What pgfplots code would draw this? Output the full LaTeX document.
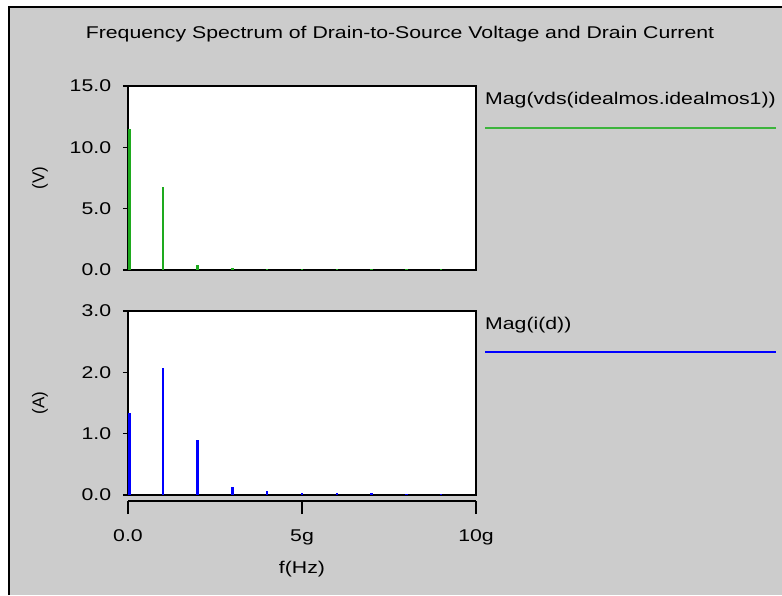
\documentclass[border=0pt]{standalone}
\usepackage{fontspec}
\setmainfont{Liberation Sans}
\usepackage{pgfplots}
\pgfplotsset{compat=1.18}

\definecolor{panelgray}{HTML}{CCCCCC}
\definecolor{specgreen}{RGB}{30,170,30}
\definecolor{leggreen}{RGB}{60,180,60}

\newcommand{\txt}[1]{\scalebox{1.25}[1]{\fontsize{17}{20}\selectfont #1}}

\pgfplotsset{
  specaxis/.style={
    anchor=south west,
    width=348pt, height=184pt, scale only axis,
    xmin=0, xmax=10, ymin=0,
    xtick=\empty,
    ytick pos=left, tick align=outside, major tick length=5pt,
    axis line style={line width=1.5pt},
    every tick/.style={black, line width=1.5pt},
    axis background/.style={fill=white},
    yticklabel style={font=\fontsize{17}{20}\selectfont, xscale=1.25, xshift=-6pt,
      /pgf/number format/.cd, fixed, fixed zerofill, precision=1, assume math mode=true},
    every axis y label/.style={at={(axis description cs:-0.253,0.5)}, rotate=90, anchor=center,
      font=\fontsize{17}{20}\selectfont},
    clip=false,
  },
}

\begin{document}
\begin{tikzpicture}
\useasboundingbox (0,0) rectangle (782pt,595pt);
\fill[white] (0,0) rectangle (782pt,595pt);
\fill[panelgray] (9pt,0) rectangle (782pt,588pt);
\draw[line width=2pt] (9pt,0) -- (9pt,588pt) -- (782pt,588pt);

\node at (400pt,561pt) {\txt{Frequency Spectrum of Drain-to-Source Voltage and Drain Current}};

% voltage spectrum
\begin{axis}[specaxis, at={(128pt,325pt)}, ymax=15, ytick={0,5,10,15}, ylabel={(V)}]
\addplot[ycomb, specgreen, line width=2.5pt, mark=none] coordinates {
  (0.04,11.5) (1,6.8) (2,0.4) (3,0.15) (4,0.05) (5,0.05) (6,0.05) (7,0.05) (8,0.05) (9,0.05)
};
\end{axis}

% current spectrum
\begin{axis}[specaxis, at={(128pt,100pt)}, ymax=3, ytick={0,1,2,3}, ylabel={(A)}]
\addplot[ycomb, blue, line width=2.5pt, mark=none] coordinates {
  (0.04,1.34) (1,2.07) (2,0.89) (3,0.13) (4,0.06) (5,0.04) (6,0.04) (7,0.04) (8,0.01) (9,0.01)
};
\end{axis}

% shared frequency axis
\begin{axis}[
  at={(128pt,94pt)}, anchor=south west,
  width=348pt, height=10pt, scale only axis,
  xmin=0, xmax=10, ymin=0, ymax=1,
  hide y axis, axis x line*=bottom,
  axis line style={-, line width=1.5pt},
  xtick={0,5,10}, xticklabels={0.0,5g,10g},
  tick align=outside, major tick length=13pt,
  every tick/.style={black, line width=1.5pt},
  xticklabel style={font=\fontsize{17}{20}\selectfont, xscale=1.25, yshift=-12pt},
  xlabel={f(Hz)},
  every axis x label/.style={at={(axis description cs:0.5,0)}, anchor=center, yshift=-68pt,
    font=\fontsize{17}{20}\selectfont, xscale=1.25},
]
\end{axis}

% legend entries
\node[anchor=west, inner sep=0] at (485pt,495pt) {\txt{Mag(vds(idealmos.idealmos1))}};
\draw[leggreen, line width=2pt] (485pt,467pt) -- (776pt,467pt);
\node[anchor=west, inner sep=0] at (485pt,270pt) {\txt{Mag(i(d))}};
\draw[blue, line width=2pt] (485pt,243pt) -- (776pt,243pt);
\end{tikzpicture}
\end{document}
